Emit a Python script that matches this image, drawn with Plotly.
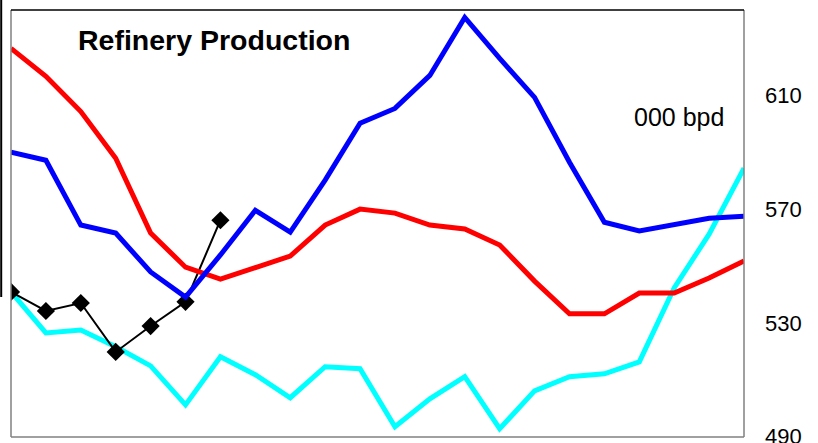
import plotly.graph_objects as go

x = list(range(22))
blue = [590, 587.2, 564.4, 561.6, 547.9, 539.1, 553.9, 569.6, 561.9, 580.2, 600.2,
        605.4, 617, 637.4, 623, 609.3, 586.5, 565.4, 562.3, 564.4, 566.8, 567.5]
red = [626.5, 616.7, 604.3, 587.9, 561.6, 549.6, 545.4, 549.3, 553.5, 564.4, 570,
       568.6, 564.4, 563, 557.4, 544.7, 533.2, 533.2, 540.5, 540.5, 545.8, 551.8]
cyan = [540.9, 526.5, 527.5, 521.6, 514.9, 501.2, 518.1, 511.8, 503.7, 514.6, 513.9,
        493.5, 503.3, 511.1, 492.8, 506.1, 511.1, 512.1, 516.3, 542.3, 561.2, 584.4]
black_x = list(range(7))
black = [540.9, 534.2, 537, 519.8, 528.9, 537.4, 566.1]
y_ticks = [490, 530, 570, 610]

fig = go.Figure()
fig.add_trace(go.Scatter(x=x, y=cyan, mode="lines", line=dict(color="#00FFFF", width=5)))
fig.add_trace(go.Scatter(x=black_x, y=black, mode="lines+markers",
                         line=dict(color="black", width=2),
                         marker=dict(symbol="diamond", size=14, color="black")))
fig.add_trace(go.Scatter(x=x, y=red, mode="lines", line=dict(color="#FF0000", width=5)))
fig.add_trace(go.Scatter(x=x, y=blue, mode="lines", line=dict(color="#0000FF", width=5)))

fig.update_layout(
    width=818, height=443,
    margin=dict(l=11, r=74, t=10, b=6),
    paper_bgcolor="white", plot_bgcolor="white",
    showlegend=False,
    font=dict(family="Liberation Sans, Arial, sans-serif", color="black"),
    xaxis=dict(range=[0, 21], showgrid=False, zeroline=False, showticklabels=False,
               showline=False, fixedrange=True, automargin=False),
    yaxis=dict(range=[489.9, 640], side="right", tickvals=y_ticks, showgrid=False,
               zeroline=False, showline=False, ticks="", ticklabelstandoff=20,
               ticklabeloverflow="allow", automargin=False,
               tickfont=dict(size=22, color="black"), fixedrange=True),
    annotations=[
        dict(text="<b>Refinery Production</b>", xref="paper", yref="paper",
             x=(76 - 11) / 733, y=(437 - 40) / 427, xanchor="left", yanchor="middle",
             showarrow=False, font=dict(size=28.5, color="black")),
        dict(text="000 bpd", xref="paper", yref="paper",
             x=(726 - 11) / 733, y=(437 - 117) / 427, xanchor="right", yanchor="middle",
             showarrow=False, font=dict(size=25, color="black")),
    ],
    shapes=[
        dict(type="line", xref="paper", yref="paper", x0=0, x1=0, y0=0, y1=1,
             line=dict(color="#808080", width=1.5)),
        dict(type="line", xref="paper", yref="paper", x0=0, x1=1, y0=0, y1=0,
             line=dict(color="#808080", width=1.5)),
        dict(type="line", xref="paper", yref="paper", x0=1, x1=1, y0=0, y1=1,
             line=dict(color="#808080", width=1.5)),
        dict(type="line", xref="paper", yref="paper", x0=0, x1=1, y0=1, y1=1,
             line=dict(color="black", width=1.5)),
        dict(type="line", xref="paper", yref="paper", x0=-9.8 / 733, x1=-9.8 / 733,
             y0=(437 - 297) / 427, y1=(437 - 0) / 427,
             line=dict(color="black", width=2)),
    ],
)

fig.write_html("out.html", config={"displayModeBar": False},
               post_script="document.body.style.margin='0';document.body.style.overflow='hidden';")
